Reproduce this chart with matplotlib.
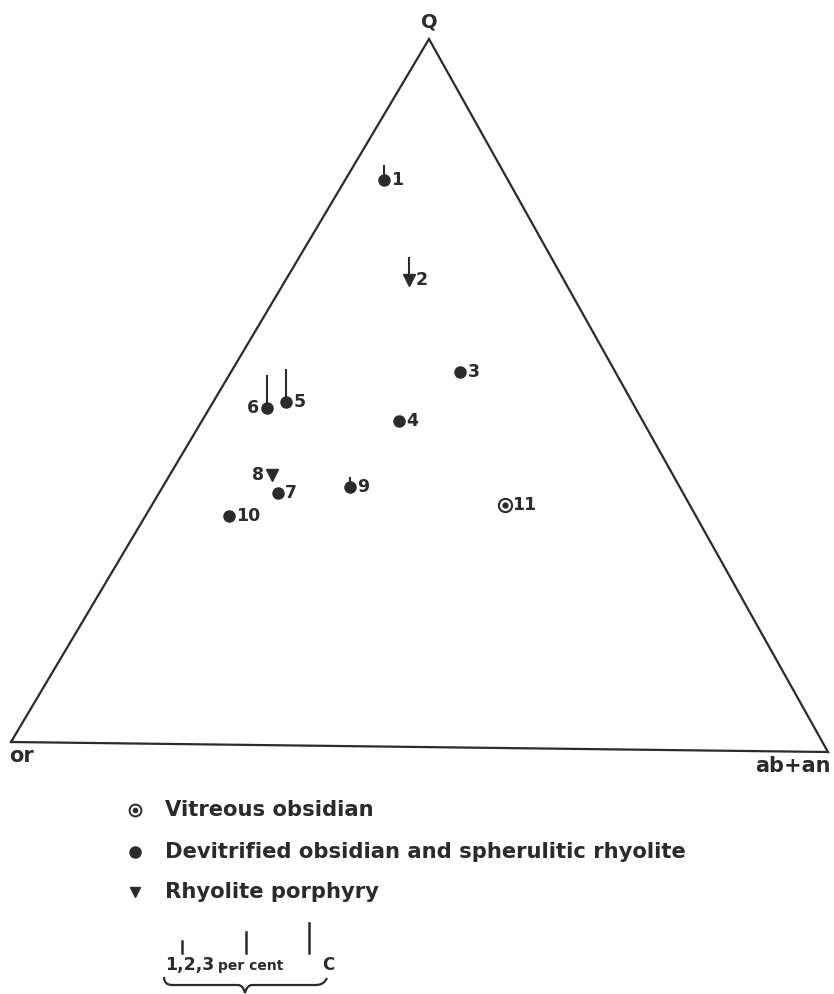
import numpy as np
import matplotlib
matplotlib.use("Agg")
import matplotlib.pyplot as plt
from matplotlib.path import Path
from matplotlib.patches import PathPatch

# Q - or - (ab+an) compositions, per cent
samples = ['1', '2', '3', '4', '5', '6', '7', '8', '9', '10', '11']
q_pct = [80.0, 66.0, 53.0, 46.0, 48.5, 47.6, 35.6, 38.2, 36.6, 32.3, 34.3]
ab_an_pct = [4.7, 14.9, 27.9, 24.0, 8.9, 7.0, 14.5, 12.4, 22.8, 10.2, 42.9]
rock = ['d', 'p', 'd', 'd', 'd', 'd', 'd', 'p', 'd', 'd', 'v']
c_pct = [1.0, 1.8, 0, 0, 3.0, 3.0, 0, 0, 0.4, 0, 0]
label_left = ['6', '8']

legend_labels = ['Vitreous obsidian',
                 'Devitrified obsidian and spherulitic rhyolite',
                 'Rhyolite porphyry']
scale_pct = [1, 2, 3]

INK = '#2b2b2b'
# corners of the (slightly skewed, scanned) triangle in pixels
V_Q = (429, 39)
V_OR = (11, 742)
V_AB = (828, 752)
C_PX = 9.0  # pixels per per cent C


def tern(q, ab):
    q = np.asarray(q, float)
    ab = np.asarray(ab, float)
    o = 100 - q - ab
    x = (q * V_Q[0] + ab * V_AB[0] + o * V_OR[0]) / 100
    y = (q * V_Q[1] + ab * V_AB[1] + o * V_OR[1]) / 100
    return x, y


fig = plt.figure(figsize=(8.34, 9.94), dpi=100)
ax = fig.add_axes([0, 0, 1, 1])
ax.set_xlim(0, 834)
ax.set_ylim(994, 0)
ax.axis('off')

# triangle
tx = [V_OR[0], V_AB[0], V_Q[0], V_OR[0]]
ty = [V_OR[1], V_AB[1], V_Q[1], V_OR[1]]
ax.plot(tx, ty, color=INK, lw=1.6, solid_joinstyle='miter')

ax.text(V_Q[0], V_Q[1] - 8, 'Q', ha='center', va='bottom', fontsize=14,
        fontweight='bold', color=INK)
ax.text(V_OR[0] - 2, V_OR[1] + 4, 'or', ha='left', va='top', fontsize=15,
        fontweight='bold', color=INK)
ax.text(V_AB[0] + 3, V_AB[1] + 4, 'ab+an', ha='right', va='top', fontsize=15,
        fontweight='bold', color=INK)

xs, ys = tern(q_pct, ab_an_pct)
for name, x, y, kind, c in zip(samples, xs, ys, rock, c_pct):
    if c > 0:
        r = 5.0
        ax.plot([x, x], [y, y - r - c * C_PX], color=INK, lw=1.5, zorder=2)
    if kind == 'd':
        ax.plot(x, y, 'o', ms=8, color=INK, mec=INK, zorder=3)
    elif kind == 'p':
        ax.plot(x, y, 'v', ms=8, color=INK, mec=INK, zorder=3)
    else:
        ax.plot(x, y, 'o', ms=9.5, mfc='white', mec=INK, mew=1.5, zorder=3)
        ax.plot(x, y, 'o', ms=3.5, color=INK, zorder=4)
    if name in label_left:
        ax.text(x - 8, y, name, ha='right', va='center', fontsize=12.5,
                fontweight='bold', color=INK)
    else:
        ax.text(x + 7, y, name, ha='left', va='center', fontsize=12.5,
                fontweight='bold', color=INK)

# legend
leg_y = [810, 852, 892]
ax.plot(135, leg_y[0], 'o', ms=8.5, mfc='white', mec=INK, mew=1.4)
ax.plot(135, leg_y[0], 'o', ms=3, color=INK)
ax.plot(135, leg_y[1], 'o', ms=8, color=INK)
ax.plot(135, leg_y[2], 'v', ms=7, color=INK)
for yy, lab in zip(leg_y, legend_labels):
    ax.text(165, yy, lab, ha='left', va='center', fontsize=15.2,
            fontweight='bold', color=INK)

# per cent C scale
tick_x = [182, 246, 309]
for tx_, p in zip(tick_x, scale_pct):
    ax.plot([tx_, tx_], [953, 953 - 3 - p * C_PX], color=INK, lw=1.8)
ax.text(165, 970, '1,2,3', ha='left', va='baseline', fontsize=12.5,
        fontweight='bold', color=INK)
ax.text(218, 970, 'per cent', ha='left', va='baseline', fontsize=10,
        fontweight='bold', color=INK)
ax.text(322, 970, 'C', ha='left', va='baseline', fontsize=12,
        fontweight='bold', color=INK)

verts = [(164, 977), (164, 985), (172, 985), (176, 985),
         (238, 985), (243, 985), (245, 993),
         (247, 985), (252, 985),
         (316, 985), (324, 985), (327, 978)]
codes = [Path.MOVETO, Path.CURVE3, Path.CURVE3, Path.LINETO,
         Path.LINETO, Path.CURVE3, Path.CURVE3,
         Path.CURVE3, Path.CURVE3,
         Path.LINETO, Path.CURVE3, Path.CURVE3]
ax.add_patch(PathPatch(Path(verts, codes), fill=False, ec=INK, lw=1.6))

fig.savefig('out.png', dpi=100, facecolor='white')
